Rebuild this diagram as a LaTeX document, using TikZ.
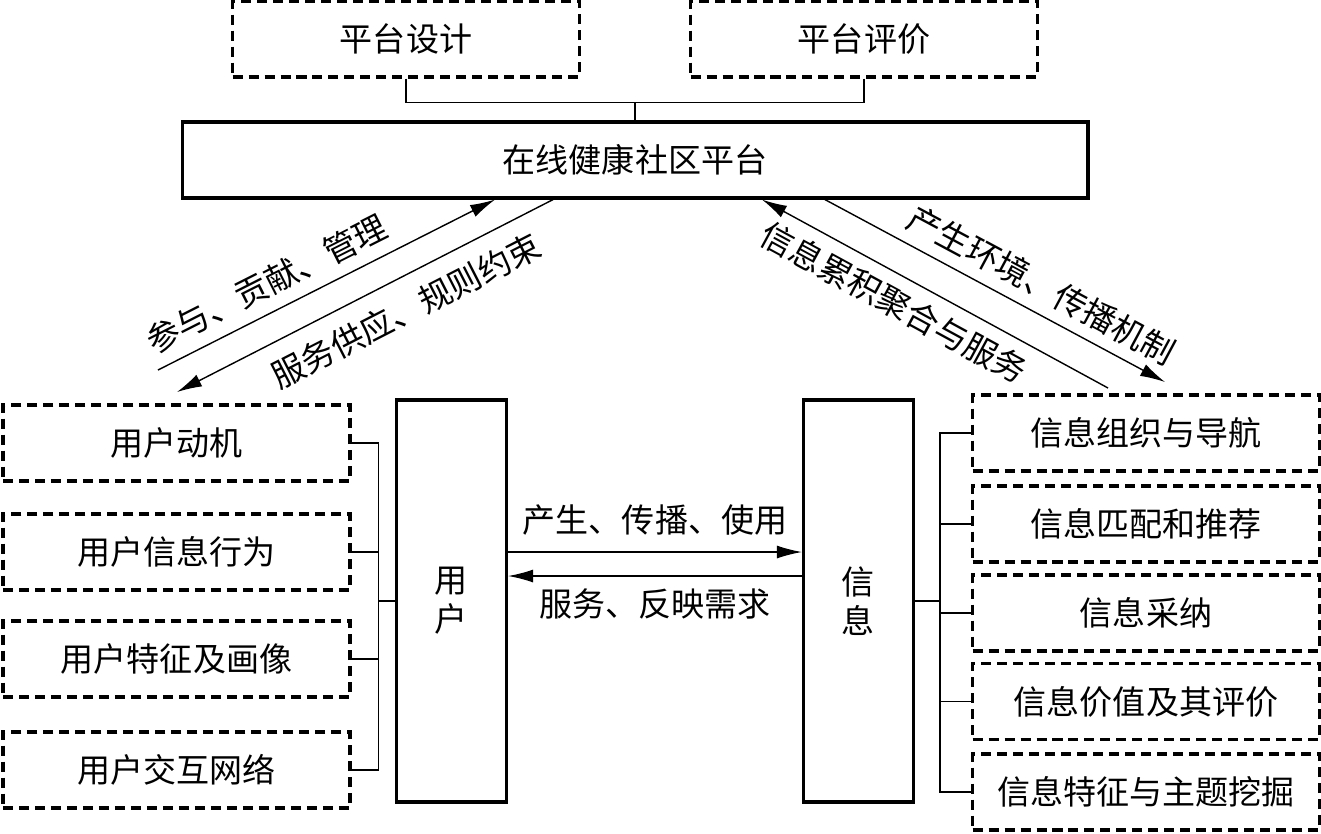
\documentclass[tikz,border=0pt]{standalone}
\usepackage{fontspec}
\newfontfamily\cjk{Noto Sans CJK SC}
\usetikzlibrary{arrows.meta,positioning}

\begin{document}
\begin{tikzpicture}[x=0.02cm,y=-0.02cm,
    every node/.style={font=\cjk\fontsize{18.8pt}{22pt}\selectfont},
    dbox/.style={draw,dash pattern=on 5.7pt off 3.4pt,line width=1.8pt,minimum width=6.94cm,minimum height=1.52cm,inner sep=0pt},
    sbox/.style={draw,line width=1.8pt,inner sep=0pt,align=center},
    link/.style={line width=0.8pt},
    arr/.style={line width=0.8pt,-{Latex[length=0.5cm,width=0.26cm]}},
    rarr/.style={line width=0.8pt,{Latex[length=0.5cm,width=0.26cm]}-}]
    \useasboundingbox (0,0) rectangle (1321,833);
    % platform and its two aspects
    \node[dbox] (d1) at (406,39) {平台设计};
    \node[dbox] (d2) at (864,39) {平台评价};
    \node[sbox,minimum width=18.12cm,minimum height=1.52cm] (plat) at (635,160) {在线健康社区平台};
    \draw[link] (d1.south) -- ++(0,24) -| (plat.north);
    \draw[link] (d2.south) -- ++(0,24) -| (plat.north);
    % user and information
    \node[sbox,minimum width=2.2cm,minimum height=8.04cm] (user) at (451.5,601) {用\\户};
    \node[sbox,minimum width=2.2cm,minimum height=8.04cm] (info) at (858.5,601) {信\\息};
    \node[dbox] (u1) at (176.5,443) {用户动机};
    \node[dbox] (u2) at (176.5,552) {用户信息行为};
    \node[dbox] (u3) at (176.5,659) {用户特征及画像};
    \node[dbox] (u4) at (176.5,770) {用户交互网络};
    \node[dbox] (r1) at (1146,433) {信息组织与导航};
    \node[dbox] (r2) at (1146,524) {信息匹配和推荐};
    \node[dbox] (r3) at (1146,613) {信息采纳};
    \node[dbox] (r4) at (1146,701.5) {信息价值及其评价};
    \node[dbox] (r5) at (1146,792) {信息特征与主题挖掘};
    \foreach \i in {1,...,4}{
        \draw[link] (u\i.east) -- ++(27,0) |- (user.west);
    }
    \foreach \i in {1,...,5}{
        \draw[link] (info.east) -- ++(25,0) |- (r\i.west);
    }
    % links to the platform
    \coordinate (lu) at (158,370);
    \coordinate (ld) at (177,392);
    \coordinate (ru) at (1108,388);
    \coordinate (rd) at (1165,382);
    \draw[arr] (lu) -- node[sloped,above=0.12cm,pos=0.36] {参与、贡献、管理} ([xshift=-2.8cm]plat.south);
    \draw[rarr] (ld) -- node[sloped,below=0.2cm,pos=0.57] {服务供应、规则约束} ([xshift=-1.64cm]plat.south);
    \draw[rarr] ([xshift=2.54cm]plat.south) -- node[sloped,below=0.1cm,pos=0.42] {信息累积聚合与服务} (ru);
    \draw[arr] ([xshift=3.8cm]plat.south) -- node[sloped,above=0.1cm,pos=0.6] {产生环境、传播机制} (rd);
    % between user and information
    \draw[arr] ([yshift=0.98cm]user.east) -- node[above=0.2cm] {产生、传播、使用} ([yshift=0.98cm]info.west);
    \draw[arr] ([yshift=0.5cm]info.west) -- node[below=0.12cm] {服务、反映需求} ([yshift=0.5cm]user.east);
\end{tikzpicture}
\end{document}
